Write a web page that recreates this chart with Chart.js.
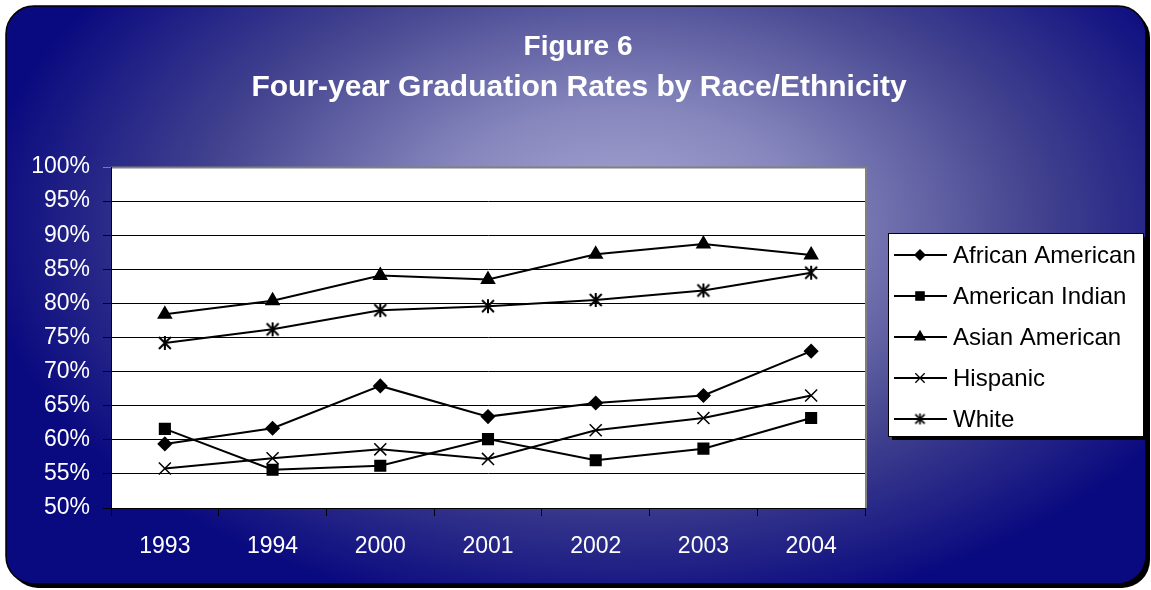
<!DOCTYPE html>
<html>
<head>
<meta charset="utf-8">
<script src="https://cdn.jsdelivr.net/npm/chart.js@4.4.0/dist/chart.umd.min.js"></script>
<style>
  html, body { margin: 0; padding: 0; background: #fff; }
  #wrap { width: 1151px; height: 590px; }
</style>
</head>
<body>
<div id="wrap"><canvas id="chart" width="1151" height="590"></canvas></div>
<script>
// data (percent)
const years           = ['1993', '1994', '2000', '2001', '2002', '2003', '2004'];
const africanAmerican = [59.4, 61.7, 67.9, 63.4, 65.4, 66.5, 73.0];
const americanIndian  = [61.6, 55.6, 56.2, 60.1, 57.0, 58.7, 63.2];
const asianAmerican   = [78.4, 80.4, 84.1, 83.5, 87.2, 88.7, 87.1];
const hispanic        = [55.8, 57.3, 58.6, 57.2, 61.4, 63.2, 66.5];
const white           = [74.2, 76.2, 79.0, 79.6, 80.5, 81.9, 84.5];
const yMin = 50, yMax = 100, yStep = 5;

const FONT = '"Liberation Sans", Arial, sans-serif';

// ── asterisk marker (X with a vertical bar) ──
function makeStar(size, lw) {
  const c = document.createElement('canvas');
  c.width = size; c.height = size;
  const g = c.getContext('2d');
  const m = size / 2, r = size / 2 - 1;
  g.strokeStyle = '#000';
  g.lineWidth = lw;
  g.beginPath();
  g.moveTo(m - r * 0.85, m - r * 0.85); g.lineTo(m + r * 0.85, m + r * 0.85);
  g.moveTo(m + r * 0.85, m - r * 0.85); g.lineTo(m - r * 0.85, m + r * 0.85);
  g.moveTo(m, m - r); g.lineTo(m, m + r);
  g.stroke();
  return c;
}
const starBig = makeStar(16, 2);
const starSmall = makeStar(13, 1.7);

function series(label, data, style, radius, legendStyle) {
  return {
    label, data,
    borderColor: '#000', backgroundColor: '#000',
    borderWidth: 2, tension: 0,
    pointStyle: style, pointRadius: radius,
    pointBorderWidth: 1.5,
    pointBackgroundColor: '#000', pointBorderColor: '#000',
    legendStyle: legendStyle || style
  };
}

// ══════════════════════════════════════════════════════════════════
//  BACKGROUND — rounded panel with radial glow + white plot area
// ══════════════════════════════════════════════════════════════════
function roundRect(ctx, x, y, w, h, r) {
  ctx.beginPath();
  ctx.moveTo(x + r, y);
  ctx.lineTo(x + w - r, y);
  ctx.arcTo(x + w, y, x + w, y + r, r);
  ctx.lineTo(x + w, y + h - r);
  ctx.arcTo(x + w, y + h, x + w - r, y + h, r);
  ctx.lineTo(x + r, y + h);
  ctx.arcTo(x, y + h, x, y + h - r, r);
  ctx.lineTo(x, y + r);
  ctx.arcTo(x, y, x + r, y, r);
  ctx.closePath();
}

const backgroundPlugin = {
  id: 'panel',
  beforeDraw(chart) {
    const ctx = chart.ctx;
    const a = chart.chartArea;
    ctx.save();
    ctx.fillStyle = '#fff';
    ctx.fillRect(0, 0, chart.width, chart.height);

    // shadow
    roundRect(ctx, 10, 10, 1140, 578, 28);
    ctx.fillStyle = '#000';
    ctx.fill();

    roundRect(ctx, 6, 6, 1140, 578, 28);
    ctx.save();
    ctx.clip();
    ctx.translate(620, 225);
    ctx.scale(1, 0.62);
    const g = ctx.createRadialGradient(0, 0, 0, 0, 0, 640);
    g.addColorStop(0, '#a8a8d4');
    g.addColorStop(0.3, '#8686bd');
    g.addColorStop(0.65, '#43438f');
    g.addColorStop(1, '#0a0a80');
    ctx.fillStyle = g;
    ctx.fillRect(-700, -700, 1400, 1400);
    ctx.restore();
    roundRect(ctx, 6, 6, 1140, 578, 28);
    ctx.strokeStyle = '#000';
    ctx.lineWidth = 1.5;
    ctx.stroke();

    // plot area
    ctx.fillStyle = '#fff';
    ctx.fillRect(a.left, a.top, a.right - a.left, a.bottom - a.top);
    ctx.strokeStyle = '#808080';
    ctx.lineWidth = 2;
    ctx.beginPath();
    ctx.moveTo(a.left, a.top + 0.5);
    ctx.lineTo(a.right + 1, a.top + 0.5);
    ctx.lineTo(a.right + 1, a.bottom);
    ctx.stroke();

    // title
    ctx.fillStyle = '#fff';
    ctx.textAlign = 'center';
    ctx.textBaseline = 'middle';
    ctx.font = 'bold 28px ' + FONT;
    ctx.fillText('Figure 6', 578, 47);
    ctx.font = 'bold 30px ' + FONT;
    ctx.fillText('Four-year Graduation Rates by Race/Ethnicity', 579, 88);
    ctx.restore();
  }
};

// ══════════════════════════════════════════════════════════════════
//  LEGEND — boxed, right of plot
// ══════════════════════════════════════════════════════════════════
const legendPlugin = {
  id: 'boxLegend',
  afterDraw(chart) {
    const ctx = chart.ctx;
    const bx = 888, by = 233, bw = 255, bh = 203;
    ctx.save();
    ctx.fillStyle = '#000';
    ctx.fillRect(bx + 4, by + 4, bw, bh);
    ctx.fillStyle = '#fff';
    ctx.fillRect(bx, by, bw, bh);
    ctx.strokeStyle = '#000';
    ctx.lineWidth = 1;
    ctx.strokeRect(bx + 0.5, by + 0.5, bw, bh);

    ctx.font = '24px ' + FONT;
    ctx.textAlign = 'left';
    ctx.textBaseline = 'middle';
    chart.data.datasets.forEach((ds, i) => {
      const y = 255 + i * 41;
      ctx.strokeStyle = '#000';
      ctx.fillStyle = '#000';
      ctx.lineWidth = 2;
      ctx.beginPath();
      ctx.moveTo(894, y);
      ctx.lineTo(947, y);
      ctx.stroke();
      ctx.lineWidth = 1.3;
      Chart.helpers.drawPoint(ctx, {
        pointStyle: ds.legendStyle,
        radius: ds.pointRadius * 0.78,
        borderWidth: 1.3
      }, 920, y);
      ctx.fillStyle = '#000';
      ctx.fillText(ds.label, 953, y + 1);
    });
    ctx.restore();
  }
};

new Chart(document.getElementById('chart').getContext('2d'), {
  type: 'line',
  data: {
    labels: years,
    datasets: [
      series('African American', africanAmerican, 'rectRot', 6.5),
      series('American Indian',  americanIndian,  'rect', 7.5),
      series('Asian American',   asianAmerican,   'triangle', 7.5),
      series('Hispanic',         hispanic,        'crossRot', 8.5),
      series('White',            white,           starBig, 7.5, starSmall)
    ]
  },
  options: {
    responsive: false,
    animation: false,
    events: [],
    layout: { padding: { left: 20, right: 286, top: 167, bottom: 32 } },
    plugins: {
      legend: { display: false },
      title: { display: false },
      tooltip: { enabled: false }
    },
    scales: {
      x: {
        offset: true,
        grid: {
          offset: true, drawOnChartArea: false, drawTicks: true,
          tickLength: 8, color: '#000', lineWidth: 1
        },
        border: { color: '#000', width: 1 },
        ticks: { color: '#fff', font: { family: FONT, size: 23 }, padding: 17, maxRotation: 0 },
        afterFit(scale) { scale.height = 50; }
      },
      y: {
        min: yMin, max: yMax,
        grid: {
          tickLength: 8, lineWidth: 1,
          color: c => (c.tick && c.tick.value === yMax ? '#808080' : '#000')
        },
        border: { color: '#000', width: 1 },
        ticks: {
          stepSize: yStep, color: '#fff', padding: 13,
          font: { family: FONT, size: 23 },
          callback: v => v + '%'
        },
        afterFit(scale) { scale.width = 91; }
      }
    }
  },
  plugins: [backgroundPlugin, legendPlugin]
});
</script>
</body>
</html>
